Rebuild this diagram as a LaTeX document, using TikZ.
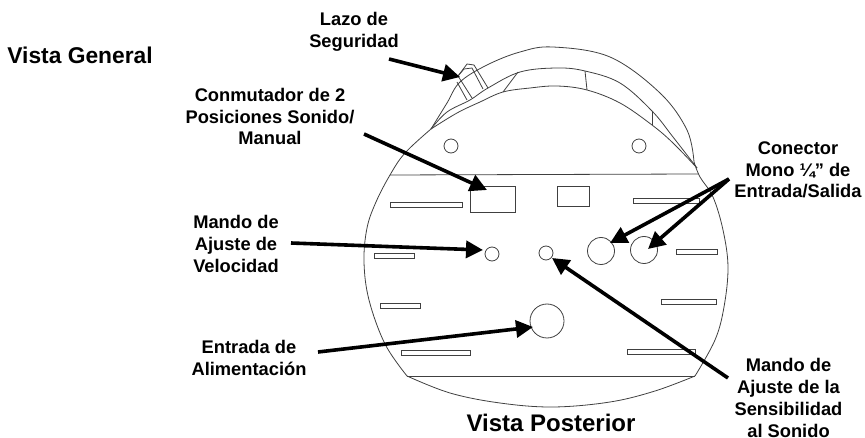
\documentclass[tikz,border=0pt]{standalone}
\usepackage{fontspec}
\setmainfont{Liberation Sans}
\usetikzlibrary{arrows.meta}

\begin{document}
\begin{tikzpicture}[x=1pt, y=-1pt, thick]

	% Styles
	\tikzstyle{outline} = [draw=black!75, line width=0.8pt];
	\tikzstyle{part} = [outline, fill=none, inner sep=0pt, minimum size=0pt];
	\tikzstyle{hole} = [part, circle];
	\tikzstyle{slat} = [part, rectangle, anchor=north west, line width=1pt];
	\tikzstyle{caption} = [align=center, inner sep=0pt, font=\fontsize{18.3}{21.7}\selectfont\bfseries];
	\tikzstyle{title} = [inner sep=0pt, font=\fontsize{22.8}{27}\selectfont\bfseries];
	\tikzstyle{pointer} = [-{Triangle[length=17pt, width=17pt]}, line width=3.6pt, black];

	\useasboundingbox (0,0) rectangle (865,438);

	% Body
	\draw[outline] plot[smooth, tension=0.6] coordinates {(407,376) (385,344) (369,300) (364,262) (367,228) (376,202) (390,175) (405,153) (431,129)};
	\draw[outline] plot[smooth, tension=0.6] coordinates {(694,162) (700,177) (713,197) (723,230) (728,267) (724,307) (715,340) (695,376)};
	\draw[outline] plot[smooth, tension=0.6] coordinates {(407,376) (450,393) (500,403) (553,407) (610,402) (655,391) (695,376)};
	\draw[outline] (390,175) -- (698,174);
	\draw[outline] (407,376) -- (695,376);

	% Top cover
	\draw[outline] plot[smooth, tension=0.6] coordinates {(431,129) (447,103) (460,82) (487,65) (520,52) (553,47) (610,57) (660,93) (687,130) (694,162)};
	\draw[outline] plot[smooth, tension=0.6] coordinates {(431,129) (447,112) (470,100) (488,88) (520,72) (557,68) (585,71) (620,83) (652,111) (673,137) (697,168)};
	\draw[outline] plot[smooth, tension=0.6] coordinates {(431,129) (457,113) (480,102) (503,92) (530,88) (557,86) (587,90) (620,103) (652,125) (673,143) (697,168)};
	\draw[outline] (518,72) -- (503,92);
	\draw[outline] (585,71) -- (587,90);
	\draw[outline] (652,111) -- (652,125);

	% Loop
	\draw[outline] (472,98) -- (458,76) -- (467,64) -- (474,65) -- (488,88);
	\draw[outline] (467,100) -- (457,82);
	\draw[outline] (458,76) -- (464,69) -- (472,68) -- (483,89);

	% Holes
	\node[hole, minimum size=14pt] (screwL) at (451,146) {};
	\node[hole, minimum size=14pt] (screwR) at (639,146) {};
	\node[hole, minimum size=14pt] (speedknob) at (492,254) {};
	\node[hole, minimum size=14pt] (soundknob) at (546,253) {};
	\node[hole, minimum size=27pt] (jackA) at (601,251) {};
	\node[hole, minimum size=27pt] (jackB) at (644,250) {};
	\node[hole, minimum size=34pt] (power) at (547,321) {};

	% Switches
	\node[slat, minimum width=45pt, minimum height=26pt] (switchA) at (470,186) {};
	\node[slat, minimum width=32pt, minimum height=20pt] (switchB) at (557,186) {};

	% Slats
	\node[slat, minimum width=72pt, minimum height=5pt] (slatA) at (390,202.5) {};
	\node[slat, minimum width=66pt, minimum height=5pt] (slatB) at (633,198) {};
	\node[slat, minimum width=41pt, minimum height=5pt] (slatC) at (676,249) {};
	\node[slat, minimum width=55pt, minimum height=5pt] (slatD) at (661,299) {};
	\node[slat, minimum width=40pt, minimum height=5pt] (slatE) at (374,253) {};
	\node[slat, minimum width=40pt, minimum height=5pt] (slatF) at (380,303) {};
	\node[slat, minimum width=69pt, minimum height=5pt] (slatG) at (401,350) {};
	\node[slat, minimum width=68pt, minimum height=5pt] (slatH) at (627,349.5) {};

	% Labels
	\node[title, anchor=west] (general) at (7,55) {Vista General};
	\node[title, font=\fontsize{24}{27}\selectfont\bfseries] (posterior) at (551,423) {Vista Posterior};
	\node[caption] (loop) at (354,32) {Lazo de\\Seguridad};
	\node[caption] (switch) at (270,116.5) {Conmutador de 2\\Posiciones Sonido/\\Manual};
	\node[caption] (speed) at (236,244) {Mando de\\Ajuste de\\Velocidad};
	\node[caption] (input) at (249,358) {Entrada de\\Alimentación};
	\node[caption] (jack) at (798,170) {Conector\\Mono ¼” de\\Entrada/Salida};
	\node[caption] (sound) at (788.5,398) {Mando de\\Ajuste de la\\Sensibilidad\\al Sonido};

	% Arrow ends
	\coordinate (loopT) at (389,59);
	\coordinate (loopH) at (460,77);
	\coordinate (switchT) at (364,134);
	\coordinate (switchH) at (487,190);
	\coordinate (speedT) at (291,243);
	\coordinate (speedH) at (483,250);
	\coordinate (inputT) at (318,352);
	\coordinate (inputH) at (533,327);
	\coordinate (jackT) at (729,179);
	\coordinate (jackAH) at (610,243);
	\coordinate (jackBH) at (648,249);
	\coordinate (soundT) at (728,378);
	\coordinate (soundH) at (552,258);

	% Arrows
	\draw[pointer] (loopT) -- (loopH);
	\draw[pointer] (switchT) -- (switchH);
	\draw[pointer] (speedT) -- (speedH);
	\draw[pointer] (inputT) -- (inputH);
	\draw[pointer] (jackT) -- (jackAH);
	\draw[pointer] (jackT) -- (jackBH);
	\draw[pointer] (soundT) -- (soundH);

\end{tikzpicture}
\end{document}
